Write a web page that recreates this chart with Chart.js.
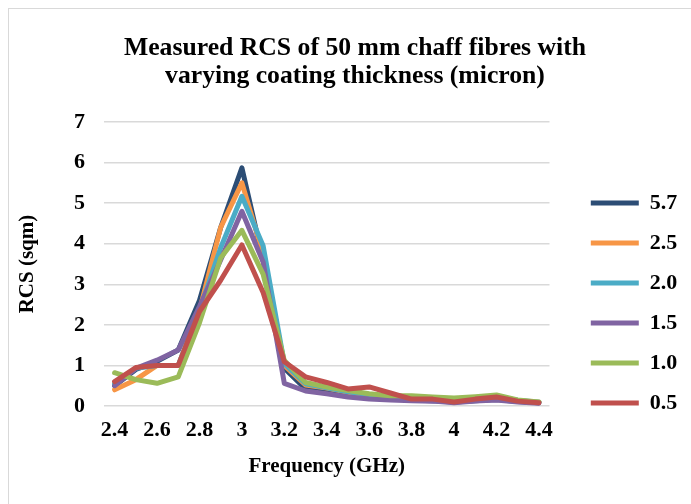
<!DOCTYPE html>
<html>
<head>
<meta charset="utf-8">
<script src="https://cdn.jsdelivr.net/npm/chart.js@4/dist/chart.umd.min.js"></script>
<style>
  html, body { margin: 0; padding: 0; background: #fff; overflow: hidden; width: 691px; height: 504px; }
  #frame {
    position: absolute; left: 8px; top: 8px; width: 720px; height: 540px;
    border: 1.5px solid #d9d9d9;
  }
  #chart { position: absolute; left: 9px; top: 9px; }
</style>
</head>
<body>
<div id="frame"></div>
<canvas id="chart" width="692" height="504"></canvas>
<script>
// Frequency (GHz) categories, one every 0.1
const frequencies = ['2.4', '2.5', '2.6', '2.7', '2.8', '2.9', '3', '3.1', '3.2', '3.3', '3.4',
                     '3.5', '3.6', '3.7', '3.8', '3.9', '4', '4.1', '4.2', '4.3', '4.4'];

// RCS (sqm) per coating thickness (micron)
const rcs57 = [0.50, 0.90, 1.10, 1.38, 2.60, 4.40, 5.87, 3.60, 0.93, 0.42, 0.35, 0.25, 0.20, 0.18, 0.15, 0.13, 0.10, 0.13, 0.16, 0.11, 0.08];
const rcs25 = [0.40, 0.65, 1.00, 1.00, 2.35, 4.40, 5.50, 3.75, 1.00, 0.52, 0.44, 0.34, 0.27, 0.22, 0.20, 0.18, 0.15, 0.18, 0.22, 0.13, 0.09];
const rcs20 = [0.55, 0.93, 1.00, 1.00, 2.35, 3.90, 5.17, 3.95, 1.05, 0.55, 0.45, 0.35, 0.28, 0.23, 0.21, 0.19, 0.16, 0.19, 0.23, 0.14, 0.09];
const rcs15 = [0.50, 0.93, 1.13, 1.38, 2.45, 3.60, 4.80, 3.55, 0.56, 0.37, 0.30, 0.22, 0.17, 0.15, 0.13, 0.12, 0.08, 0.12, 0.15, 0.10, 0.07];
const rcs10 = [0.82, 0.65, 0.56, 0.72, 2.05, 3.65, 4.33, 3.25, 1.12, 0.58, 0.47, 0.38, 0.30, 0.25, 0.25, 0.22, 0.20, 0.23, 0.27, 0.15, 0.10];
const rcs05 = [0.60, 0.95, 1.00, 1.00, 2.33, 3.10, 3.97, 2.80, 1.09, 0.72, 0.58, 0.42, 0.47, 0.32, 0.17, 0.17, 0.10, 0.17, 0.22, 0.12, 0.08];

const seriesNames = ['5.7', '2.5', '2.0', '1.5', '1.0', '0.5'];
const seriesValues = [rcs57, rcs25, rcs20, rcs15, rcs10, rcs05];
const seriesColors = ['#2c4d75', '#f79646', '#4bacc6', '#8064a2', '#9bbb59', '#c0504d'];

const yTicks = [0, 1, 2, 3, 4, 5, 6, 7];

const serif = '"Liberation Serif", "Times New Roman", serif';

// Build the datasets; last one is drawn on top
const datasets = seriesNames.map((name, i) => ({
    label: name,
    data: seriesValues[i],
    borderColor: seriesColors[i],
    backgroundColor: seriesColors[i],
    borderWidth: 5,
    borderCapStyle: 'round',
    borderJoinStyle: 'round',
    pointRadius: 0,
    tension: 0,
    order: seriesNames.length - 1 - i,
}));

// Give the legend some extra room on its right, like the Excel original
const legendMargin = {
    id: 'legendMargin',
    afterInit(chart) {
        const legend = chart.legend;
        const fit = legend.fit;
        legend.fit = function() {
            fit.call(this);
            this.width += 13.7;
        };
    },
};

const chart = new Chart(document.getElementById('chart').getContext('2d'), {
    type: 'line',
    data: { labels: frequencies, datasets: datasets },
    plugins: [legendMargin],
    options: {
        responsive: false,
        animation: false,
        layout: { padding: { left: 0, right: 0, top: 0, bottom: 33.4 } },
        plugins: {
            title: {
                display: true,
                text: ['Measured RCS of 50 mm chaff fibres with', 'varying coating thickness (micron)'],
                color: '#000',
                font: { family: serif, size: 25.7, weight: 'bold', lineHeight: 1.09 },
                padding: { top: 25, bottom: 32 },
            },
            legend: {
                position: 'right',
                title: { display: true, text: '', font: { size: 12 }, padding: { top: 51.5, bottom: 51.5 } },
                labels: {
                    usePointStyle: true,
                    pointStyle: 'line',
                    pointStyleWidth: 48,
                    padding: 18,
                    color: '#000',
                    font: { family: serif, size: 22, weight: 'bold' },
                    sort: (a, b) => a.datasetIndex - b.datasetIndex,
                },
            },
            tooltip: { enabled: false },
        },
        scales: {
            x: {
                offset: true,
                grid: { display: false, drawTicks: false },
                border: { display: false },
                ticks: {
                    autoSkip: false,
                    maxRotation: 0,
                    padding: 11,
                    color: '#000',
                    font: { family: serif, size: 22, weight: 'bold' },
                    callback: function(value, index) {
                        return index % 2 === 0 ? this.getLabelForValue(value) : '';
                    },
                },
                title: {
                    display: true,
                    text: 'Frequency (GHz)',
                    color: '#000',
                    font: { family: serif, size: 21, weight: 'bold' },
                    padding: { top: 0, bottom: 0 },
                },
            },
            y: {
                min: 0,
                max: 7,
                afterBuildTicks: (scale) => { scale.ticks = yTicks.map(v => ({ value: v })); },
                grid: { color: '#d9d9d9', lineWidth: 1.5, drawTicks: false },
                border: { display: false },
                ticks: {
                    padding: 19,
                    color: '#000',
                    font: { family: serif, size: 22, weight: 'bold' },
                },
                title: {
                    display: true,
                    text: 'RCS (sqm)',
                    color: '#000',
                    font: { family: serif, size: 21, weight: 'bold' },
                    padding: { top: 6.4, bottom: 14.4 },
                },
            },
            // empty spacer between the plot and the legend
            gap: {
                position: 'right',
                display: true,
                grid: { display: false },
                border: { display: false },
                ticks: { display: false },
                afterFit: (scale) => { scale.width = 23.3; },
            },
        },
    },
});
</script>
</body>
</html>
